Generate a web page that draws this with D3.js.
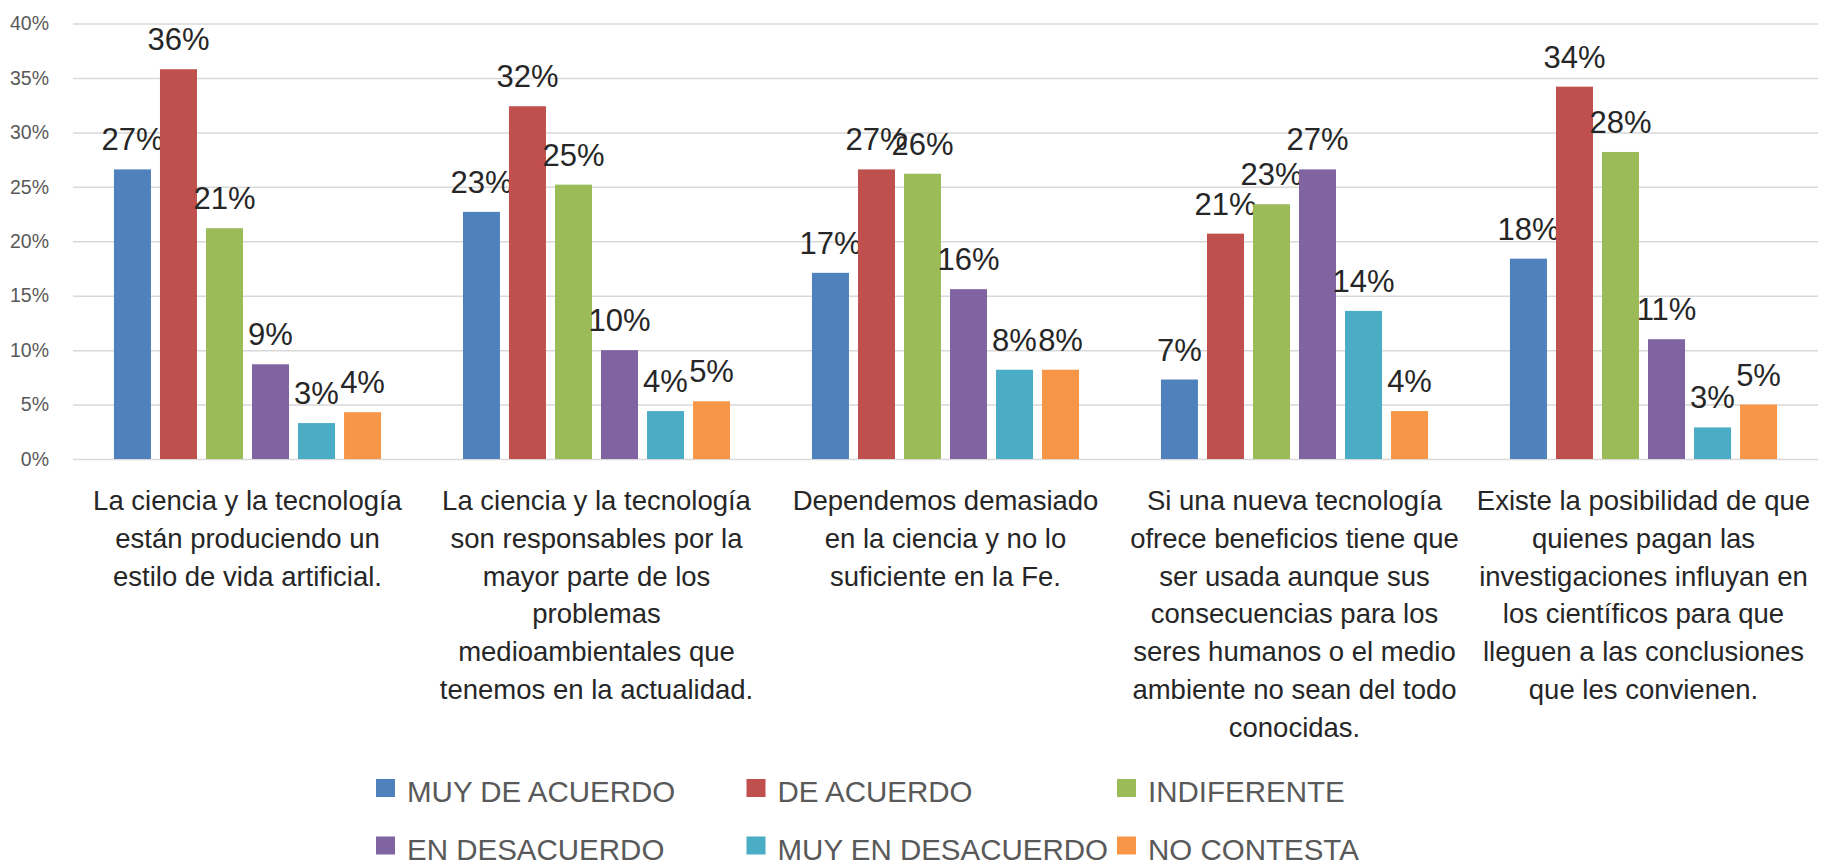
<!DOCTYPE html>
<html>
<head>
<meta charset="utf-8">
<script src="https://cdn.jsdelivr.net/npm/d3@7"></script>
<style>
  body { margin: 0; background: #fff; }
  text { font-family: "Liberation Sans", Arial, sans-serif; }
</style>
</head>
<body>
<div id="chart-area"></div>
<script>
// categorías (eje x), ya partidas en líneas como en el original
const categories = [
  ["La ciencia y la tecnología", "están produciendo un", "estilo de vida artificial."],
  ["La ciencia y la tecnología", "son responsables por la", "mayor parte de los", "problemas", "medioambientales que", "tenemos en la actualidad."],
  ["Dependemos demasiado", "en la ciencia y no lo", "suficiente en la Fe."],
  ["Si una nueva tecnología", "ofrece beneficios tiene que", "ser usada aunque sus", "consecuencias para los", "seres humanos o el medio", "ambiente no sean del todo", "conocidas."],
  ["Existe la posibilidad de que", "quienes pagan las", "investigaciones influyan en", "los científicos para que", "lleguen a las conclusiones", "que les convienen."]
]

const seriesNames = ["MUY DE ACUERDO", "DE ACUERDO", "INDIFERENTE", "EN DESACUERDO", "MUY EN DESACUERDO", "NO CONTESTA"]
const seriesColors = ["#4F81BD", "#C0504D", "#9BBB59", "#8064A2", "#4BACC6", "#F79646"]

const muyDeAcuerdo = [0.266, 0.227, 0.171, 0.073, 0.184]
const deAcuerdo = [0.358, 0.324, 0.266, 0.207, 0.342]
const indiferente = [0.212, 0.252, 0.262, 0.234, 0.282]
const enDesacuerdo = [0.087, 0.100, 0.156, 0.266, 0.110]
const muyEnDesacuerdo = [0.033, 0.044, 0.082, 0.136, 0.029]
const noContesta = [0.043, 0.053, 0.082, 0.044, 0.050]

const yTicks = [0, 0.05, 0.1, 0.15, 0.2, 0.25, 0.3, 0.35, 0.4]

const seriesValues = [muyDeAcuerdo, deAcuerdo, indiferente, enDesacuerdo, muyEnDesacuerdo, noContesta]

const width = 1835
const height = 867
const plot = { left: 73, right: 1818, top: 23.5, bottom: 459 }

const svg = d3.select("#chart-area").append("svg")
  .attr("width", width)
  .attr("height", height)

svg.append("rect")
  .attr("width", width)
  .attr("height", height)
  .attr("fill", "#fff")

const catIndex = categories.map((c, i) => i)

const x0 = d3.scaleBand()
  .domain(catIndex)
  .range([plot.left, plot.right])

const x1 = d3.scaleBand()
  .domain(seriesNames)
  .range([0, x0.bandwidth()])
  .paddingInner(0.196)
  .paddingOuter(0.89)

const y = d3.scaleLinear()
  .domain([0, 0.4])
  .range([plot.bottom, plot.top])

// eje y + líneas de cuadrícula
const yAxisCall = d3.axisLeft(y)
  .tickValues(yTicks)
  .tickFormat(d3.format(".0%"))
  .tickSize(-(plot.right - plot.left))
  .tickPadding(24)

const yAxis = svg.append("g")
  .attr("class", "y-axis-line")
  .attr("transform", `translate(${plot.left}, 0)`)
  .call(yAxisCall)

yAxis.select(".domain").remove()
yAxis.selectAll("line")
  .attr("stroke", "#d9d9d9")
  .attr("stroke-width", 1.5)
yAxis.selectAll("text")
  .attr("font-size", "19.5px")
  .attr("fill", "#595959")

// barras
const groups = svg.selectAll("g.cat")
  .data(catIndex)
  .enter().append("g")
  .attr("class", "cat")
  .attr("transform", d => `translate(${x0(d)}, 0)`)

const cells = groups.selectAll("g.bar")
  .data(ci => seriesNames.map((s, si) => ({ s, si, v: seriesValues[si][ci] })))
  .enter().append("g")
  .attr("class", "bar")

cells.append("rect")
  .attr("x", d => x1(d.s))
  .attr("y", d => y(d.v))
  .attr("width", x1.bandwidth())
  .attr("height", d => y(0) - y(d.v))
  .attr("fill", d => seriesColors[d.si])

cells.append("text")
  .attr("x", d => x1(d.s) + x1.bandwidth() / 2)
  .attr("y", d => y(d.v) - 19)
  .attr("text-anchor", "middle")
  .attr("font-size", "31px")
  .attr("fill", "#262626")
  .text(d => Math.round(d.v * 100) + "%")

// etiquetas de categoría
const catLabels = svg.selectAll("text.cat-label")
  .data(catIndex)
  .enter().append("text")
  .attr("class", "cat-label")
  .attr("x", d => x0(d) + x0.bandwidth() / 2)
  .attr("y", 510)
  .attr("text-anchor", "middle")
  .attr("font-size", "27.5px")
  .attr("fill", "#262626")

catLabels.selectAll("tspan")
  .data(d => categories[d])
  .enter().append("tspan")
  .attr("x", function () { return d3.select(this.parentNode).attr("x") })
  .attr("dy", (d, i) => i === 0 ? 0 : 37.8)
  .text(d => d)

// leyenda
const legend = svg.append("g")
  .attr("transform", "translate(376, 779)")

const items = legend.selectAll("g")
  .data(seriesNames)
  .enter().append("g")
  .attr("transform", (d, i) => `translate(${(i % 3) * 370.5}, ${Math.floor(i / 3) * 57.5})`)

items.append("rect")
  .attr("width", 19)
  .attr("height", 18)
  .attr("fill", (d, i) => seriesColors[i])

items.append("text")
  .attr("x", 31)
  .attr("y", 23)
  .attr("font-size", "29.5px")
  .attr("fill", "#595959")
  .text(d => d)
</script>
</body>
</html>
